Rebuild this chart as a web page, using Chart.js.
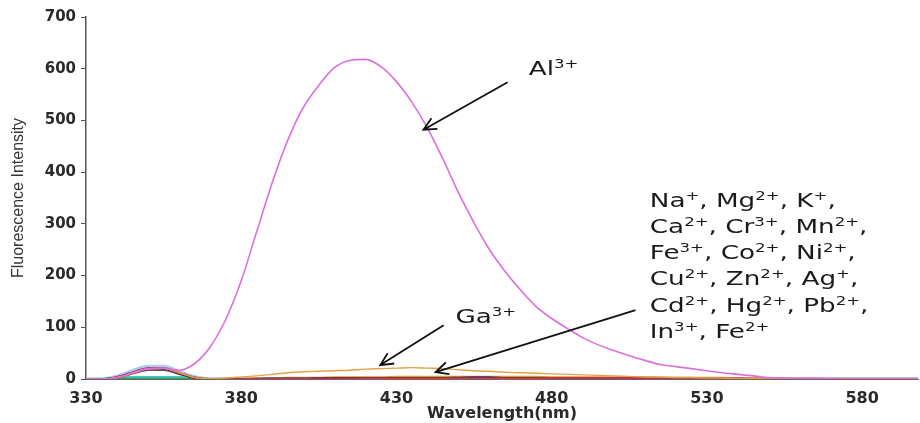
<!DOCTYPE html>
<html>
<head>
<meta charset="utf-8">
<script src="https://cdn.jsdelivr.net/npm/chart.js@4.4.1/dist/chart.umd.min.js"></script>
<style>
  html, body { margin: 0; padding: 0; background: #fff; }
</style>
</head>
<body>
<canvas id="myChart" width="920" height="423"></canvas>
<script>
  // wavelengths (nm), one point every 5 nm
  const wavelengths = [330, 335, 340, 345, 350, 355, 360, 365, 370, 375,
    380, 385, 390, 395, 400, 405, 410, 415, 420, 425,
    430, 435, 440, 445, 450, 455, 460, 465, 470, 475,
    480, 485, 490, 495, 500, 505, 510, 515, 520, 525,
    530, 535, 540, 545, 550, 555, 560, 565, 570, 575,
    580, 585, 590, 595, 600];

  const xTicks = [330, 380, 430, 480, 530, 580];

  // fluorescence intensity
  const al3 = [0, 0, 3, 12, 20, 21, 17, 30, 62, 115,
    190, 285, 380, 462, 525, 568, 602, 616, 618, 604,
    575, 535, 485, 425, 360, 302, 250, 208, 172, 140,
    117, 98, 80, 66, 55, 45, 36, 28, 24, 20,
    16, 12, 9, 6, 3, 2, 1, 1, 1, 0,
    0, 0, 0, 0, 0];

  const ga3 = [0, 0, 3, 11, 19, 20, 12, 3, 1, 2,
    4, 6, 9, 12, 14, 15, 16, 17, 19, 20,
    21, 22, 21, 20, 18, 16, 15, 13, 12, 11,
    10, 9, 8, 7, 6, 5, 4, 4, 3, 3,
    2, 2, 1, 1, 0, 0, 0, 0, 0, 0,
    0, 0, 0, 0, 0];

  const gold = [0, 0, 2, 10, 18, 19, 10, 2, 0, 1,
    1, 2, 2, 3, 3, 3, 4, 4, 4, 4,
    5, 5, 5, 5, 5, 5, 5, 5, 5, 5,
    4, 4, 4, 4, 4, 4, 4, 3, 3, 3,
    3, 3, 2, 2, 2, 1, 1, 1, 0, 0,
    0, 0, 0, 0, 0];

  const darkRed = [0, 0, 4, 13, 21, 21, 12, 3, 0, 0,
    0, 0, 1, 1, 1, 2, 2, 2, 2, 2,
    2, 2, 2, 2, 2, 2, 2, 2, 2, 2,
    2, 2, 2, 2, 2, 2, 1, 1, 1, 1,
    1, 1, 1, 0, 0, 0, 0, 0, 0, 0,
    0, 0, 0, 0, 0];

  const black = [0, 0, 3, 12, 20, 20, 11, 2, 0, 0,
    0, 0, 0, 0, 0, 1, 1, 1, 1, 1,
    1, 1, 1, 1, 1, 1, 1, 1, 1, 1,
    1, 1, 1, 1, 1, 1, 1, 0, 0, 0,
    0, 0, 0, 0, 0, 0, 0, 0, 0, 0,
    0, 0, 0, 0, 0];

  const navy = [0, 0, 3, 11, 18, 19, 10, 2, 0, 0,
    0, 1, 1, 1, 1, 1, 1, 1, 2, 2,
    2, 2, 2, 2, 3, 4, 4, 2, 1, 1,
    1, 1, 1, 1, 1, 1, 1, 1, 0, 0,
    0, 0, 0, 0, 0, 0, 0, 0, 0, 0,
    0, 0, 0, 0, 0];

  const lightBlue = [0, 0, 5, 16, 24, 24, 14, 4, 0, 0,
    0, 0, 0, 0, 0, 0, 0, 0, 0, 0,
    0, 0, 0, 0, 0, 0, 0, 0, 0, 0,
    0, 0, 0, 0, 0, 0, 0, 0, 0, 0,
    0, 0, 0, 0, 0, 0, 0, 0, 0, 0,
    0, 0, 0, 0, 0];

  const cyan = [0, 0, 3, 4, 4, 4, 4, 3, 0, 0,
    0, 0, 0, 0, 0, 0, 0, 0, 0, 0,
    0, 0, 0, 0, 0, 0, 0, 0, 0, 0,
    0, 0, 0, 0, 0, 0, 0, 0, 0, 0,
    0, 0, 0, 0, 0, 0, 0, 0, 0, 0,
    0, 0, 0, 0, 0];

  const crimson = [0, 0, 3, 12, 20, 21, 12, 3, 0, 0,
    0, 0, 0, 0, 0, 0, 0, 0, 1, 1,
    1, 1, 1, 1, 1, 1, 1, 1, 1, 1,
    2, 2, 2, 2, 2, 2, 2, 2, 2, 2,
    2, 2, 2, 1, 1, 1, 1, 1, 1, 1,
    1, 1, 1, 1, 1];

  const darkGray = [0, 0, 2, 10, 17, 17, 9, 2, 0, 0,
    0, 0, 0, 1, 1, 1, 1, 1, 1, 1,
    1, 1, 1, 1, 1, 1, 1, 1, 1, 1,
    1, 1, 1, 1, 0, 0, 0, 0, 0, 0,
    0, 0, 0, 0, 0, 0, 0, 0, 0, 0,
    0, 0, 0, 0, 0];

  const green = [0, 0, 1, 1, 1, 1, 1, 1, 0, 0,
    0, 0, 0, 0, 0, 0, 0, 0, 0, 0,
    0, 0, 0, 0, 0, 0, 0, 0, 0, 0,
    0, 0, 0, 0, 0, 0, 0, 0, 0, 0,
    0, 0, 0, 0, 0, 0, 0, 0, 0, 0,
    0, 0, 0, 0, 0];

  const ionLines = [
    'Na^+, Mg^2+, K^+,',
    'Ca^2+, Cr^3+, Mn^2+,',
    'Fe^3+, Co^2+, Ni^2+,',
    'Cu^2+, Zn^2+, Ag^+,',
    'Cd^2+, Hg^2+, Pb^2+,',
    'In^3+, Fe^2+'
  ];

  function toPoints(arr) {
    return arr.map((v, i) => ({ x: wavelengths[i], y: v }));
  }

  function makeSet(label, arr, color, width) {
    return {
      label: label,
      data: toPoints(arr),
      borderColor: color,
      borderWidth: width,
      pointRadius: 0,
      fill: false,
      cubicInterpolationMode: 'monotone'
    };
  }

  // first dataset is drawn on top
  const datasets = [
    makeSet('Al3+', al3, '#dd6fdd', 1.6),
    makeSet('Ga3+', ga3, '#e6a04a', 1.4),
    makeSet('Cu2+', crimson, '#e0344f', 1.6),
    makeSet('Fe3+', darkRed, '#8e1f45', 1.8),
    makeSet('Co2+', black, '#222222', 1.6),
    makeSet('Ni2+', navy, '#2b2f8f', 1.6),
    makeSet('Fe2+', gold, '#c9a227', 1.5),
    makeSet('Mn2+', darkGray, '#555555', 1.6),
    makeSet('Zn2+', green, '#3d9a4a', 1.5),
    makeSet('Na+', cyan, '#3cc8c8', 2),
    makeSet('K+', lightBlue, '#a8cff0', 3.5)
  ];

  // arrows and labels, anchored in data units (nm, intensity)
  const arrows = [
    { from: [465.8, 574], to: [438.7, 482] },
    { from: [445.2, 104], to: [424.8, 27] },
    { from: [507, 133], to: [442.6, 13.5] }
  ];

  const annoFont = '"DejaVu Sans", sans-serif';

  function drawRich(ctx, str, x, y) {
    ctx.save();
    ctx.translate(x, y);
    ctx.scale(1.38, 1); // the source lettering is wide
    let cx = 0;
    str.split(/(\^[0-9]*[+\-])/).forEach(part => {
      if (!part) return;
      if (part[0] === '^') {
        ctx.font = '12px ' + annoFont;
        ctx.fillText(part.slice(1), cx, -7);
        cx += ctx.measureText(part.slice(1)).width;
      } else {
        ctx.font = '19px ' + annoFont;
        ctx.fillText(part, cx, 0);
        cx += ctx.measureText(part).width;
      }
    });
    ctx.restore();
  }

  function drawArrow(ctx, x1, y1, x2, y2) {
    const ang = Math.atan2(y2 - y1, x2 - x1);
    const len = 14, spread = 0.45;
    ctx.beginPath();
    ctx.moveTo(x1, y1);
    ctx.lineTo(x2, y2);
    ctx.moveTo(x2 - len * Math.cos(ang - spread), y2 - len * Math.sin(ang - spread));
    ctx.lineTo(x2, y2);
    ctx.lineTo(x2 - len * Math.cos(ang + spread), y2 - len * Math.sin(ang + spread));
    ctx.stroke();
  }

  const labelsPlugin = {
    id: 'ionLabels',
    afterDatasetsDraw(chart) {
      const ctx = chart.ctx;
      const px = v => chart.scales.x.getPixelForValue(v);
      const py = v => chart.scales.y.getPixelForValue(v);
      ctx.save();
      ctx.strokeStyle = '#111';
      ctx.lineWidth = 1.8;
      ctx.fillStyle = '#1a1a1a';
      ctx.textAlign = 'left';
      ctx.textBaseline = 'alphabetic';
      arrows.forEach(a => drawArrow(ctx, px(a.from[0]), py(a.from[1]), px(a.to[0]), py(a.to[1])));
      drawRich(ctx, 'Al^3+', px(472.6), py(588));
      drawRich(ctx, 'Ga^3+', px(449), py(108));
      ionLines.forEach((line, i) => {
        drawRich(ctx, line, px(511.6), py(333) + i * 26.2);
      });
      ctx.restore();
    }
  };

  const ctx = document.getElementById('myChart').getContext('2d');
  const chart = new Chart(ctx, {
    type: 'line',
    data: { datasets: datasets },
    plugins: [labelsPlugin],
    options: {
      responsive: false,
      animation: false,
      layout: { padding: { top: 17, right: 2, left: 0, bottom: 0 } },
      plugins: {
        legend: { display: false },
        tooltip: { enabled: false }
      },
      scales: {
        x: {
          type: 'linear',
          min: 330,
          max: 598,
          afterBuildTicks: s => { s.ticks = xTicks.map(v => ({ value: v })); },
          afterFit: s => { s.height = 44; },
          grid: { display: false, drawTicks: false },
          border: { display: true, color: '#666', width: 1 },
          ticks: {
            padding: 10,
            color: '#2a2a2a',
            font: { family: '"DejaVu Sans", sans-serif', size: 16, weight: 'bold' }
          },
          title: {
            display: true,
            text: 'Wavelength(nm)',
            color: '#2a2a2a',
            padding: { top: 0, bottom: 0 },
            font: { family: '"DejaVu Sans", sans-serif', size: 16, weight: 'bold' }
          }
        },
        y: {
          min: 0,
          max: 700,
          afterFit: s => { s.width = 86; },
          grid: { display: true, drawOnChartArea: false, drawTicks: true, tickLength: 5, color: '#555' },
          border: { display: true, color: '#555', width: 1.5 },
          ticks: {
            stepSize: 100,
            padding: 5,
            color: '#2a2a2a',
            font: { family: '"DejaVu Sans", sans-serif', size: 15, weight: 'bold' }
          },
          title: {
            display: true,
            text: 'Fluorescence Intensity',
            color: '#333',
            padding: { top: 9, bottom: 0 },
            font: { family: '"Liberation Sans", Arial, sans-serif', size: 16 }
          }
        }
      }
    }
  });
</script>
</body>
</html>
